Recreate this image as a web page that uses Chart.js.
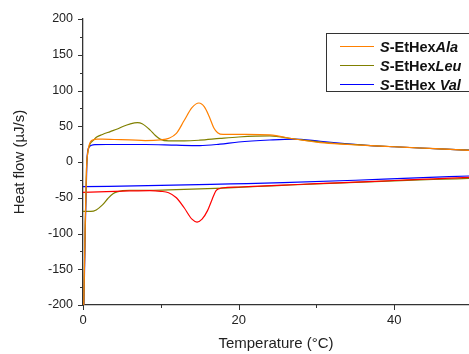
<!DOCTYPE html>
<html>
<head>
<meta charset="utf-8">
<script src="https://cdn.jsdelivr.net/npm/chart.js@4/dist/chart.umd.min.js"></script>
<style>
  html, body { margin: 0; padding: 0; background: #fff; }
  #wrap { position: relative; width: 469px; height: 354px; overflow: hidden; }
  #legend { position: absolute; left: 326px; top: 33px; width: 170px; height: 59px;
            border: 1.5px solid #333; box-sizing: border-box; background: #fff; }
  .row { position: absolute; left: 0; height: 18px; }
  .swatch { position: absolute; left: 13px; width: 34px; top: 8px; height: 0; border-top: 1.5px solid; }
  .lbl { position: absolute; left: 53px; top: 0; white-space: nowrap;
         font: bold 14.5px "Liberation Sans", Arial, sans-serif; color: #111; line-height: 18px; }
</style>
</head>
<body>
<div id="wrap">
  <canvas id="c" width="469" height="354"></canvas>
  <div id="legend"></div>
</div>
<script>
// ---- data ----
const alaHeatT = [0.1,0.28,0.45,0.6,0.8,1.0,1.3,1.8,2.5,4,6,8,10,11,12,13,14,14.9,15.6,16.2,16.8,17.3,18,19,21,24,27,30.5,34,37,40,43.3,46.5,49.6];
const alaHeatQ = [-200,-90,-10,12,24,29,31,32,32,31.5,31,30,31,33,40,58,76,82.5,77,64,48,41,38.5,38.5,38.5,37.8,32.5,27,24.5,22.8,21.3,19.6,18,16.3];

const leuHeatT = [0.1,0.28,0.45,0.6,0.8,1.0,1.3,1.76,2.5,3.5,4.5,5.2,6,7,7.6,8.6,9.3,9.9,11,13,15,17.6,20,24,27,30.5,34,37,40,43.3,46.5,49.6];
const leuHeatQ = [-200,-90,-10,12,22,27,30,35,38.5,42.5,46.5,50,53,55,53.5,45,37,32,29.5,29.5,30.5,33,35,36.4,32.5,28,25,23,21.3,19.6,18,16.5];

const valHeatT = [0.12,0.3,0.5,0.6,0.8,1.1,1.6,3,8,12,15,17.6,20,24,27,30.5,34,37,40,43.3,46.5,49.6];
const valHeatQ = [-200,-90,0,15,21,23.5,24.3,24.5,24.5,23.5,23,25,28,30.8,32,29,25.5,23,21.3,19.6,18,16.5];

const alaCoolT = [0,3,6,8.6,10,11,12,13,14,14.65,15.3,16,16.6,17.1,17.6,18,20,25.7,30,35,40,45,49.6];
const alaCoolQ = [-42.4,-41.5,-40.5,-40,-41,-43,-50,-64,-80,-84,-80,-68,-52,-40,-37,-36,-35,-32.4,-30.3,-28.2,-25.9,-23.6,-21.4];

const leuCoolT = [0,1,1.7,2.5,3.2,3.9,4.5,5.1,6,8.6,12,15,18,20,25,30,35,40,45,49.6];
const leuCoolQ = [-69,-69,-67,-60,-51,-44,-41.5,-40,-39.5,-39.5,-38.5,-37.5,-36.5,-35.5,-33,-30.5,-28.5,-26.5,-24.5,-23];

const valCoolT = [0,10,19,25.7,35,42,49.6];
const valCoolQ = [-34.5,-32.8,-30.6,-28.9,-25.5,-22.5,-19.6];

const seriesNames = ["Ala", "Leu", "Val"];
const xMajorTicks = [0, 20, 40];
const xMinorTicks = [10, 30];
const yMajorTicks = [-200, -150, -100, -50, 0, 50, 100, 150, 200];
const yMinorTicks = [-175, -125, -75, -25, 25, 75, 125, 175];

// ---- styling ----
const COL = { ala: "rgb(255,128,0)", leu: "rgb(128,128,0)", val: "rgb(0,0,255)", alaCool: "rgb(255,0,0)" };
const AXIS = "#333";
const FONT = '"Liberation Sans", Arial, sans-serif';

function pts(xs, ys) { return xs.map((x, i) => ({ x: x, y: ys[i] })); }
function ds(label, xs, ys, color) {
  return { label, data: pts(xs, ys), borderColor: color, backgroundColor: color,
           borderWidth: 1.2, pointRadius: 0, fill: false, cubicInterpolationMode: "monotone" };
}

const datasets = [
  ds("S-EtHexAla", alaHeatT, alaHeatQ, COL.ala),
  ds("S-EtHexLeu", leuHeatT, leuHeatQ, COL.leu),
  ds("S-EtHexVal", valHeatT, valHeatQ, COL.val),
  ds("Ala cool", alaCoolT, alaCoolQ, COL.alaCool),
  ds("Leu cool", leuCoolT, leuCoolQ, COL.leu),
  ds("Val cool", valCoolT, valCoolQ, COL.val)
];

const tickPlugin = {
  id: "tickMarks",
  afterDraw(chart) {
    const c = chart.ctx, xs = chart.scales.x, ys = chart.scales.y, a = chart.chartArea;
    c.save();
    c.strokeStyle = AXIS; c.lineWidth = 1;
    c.beginPath();
    xMajorTicks.forEach(v => { const p = Math.round(xs.getPixelForValue(v)) + 0.5; c.moveTo(p, a.bottom); c.lineTo(p, a.bottom + 5); });
    xMinorTicks.forEach(v => { const p = Math.round(xs.getPixelForValue(v)) + 0.5; c.moveTo(p, a.bottom); c.lineTo(p, a.bottom + 3); });
    yMajorTicks.forEach(v => { const p = Math.round(ys.getPixelForValue(v)) + 0.5; c.moveTo(a.left, p); c.lineTo(a.left - 5, p); });
    yMinorTicks.forEach(v => { const p = Math.round(ys.getPixelForValue(v)) + 0.5; c.moveTo(a.left, p); c.lineTo(a.left - 3, p); });
    c.stroke();
    c.restore();
  }
};

new Chart(document.getElementById("c"), {
  type: "line",
  data: { datasets },
  plugins: [tickPlugin],
  options: {
    responsive: false, animation: false,
    layout: { padding: { top: 19, right: 0, left: 0, bottom: 0 } },
    plugins: { legend: { display: false }, tooltip: { enabled: false } },
    scales: {
      x: {
        type: "linear", min: 0, max: 49.6,
        afterBuildTicks: s => { s.ticks = xMajorTicks.map(v => ({ value: v })); },
        afterFit: s => { s.height = 49; },
        grid: { display: false, drawTicks: true, tickLength: 5 },
        border: { display: true, color: AXIS, width: 1.3 },
        ticks: { color: "#222", font: { family: FONT, size: 13 }, padding: 3, maxRotation: 0 },
        title: { display: true, text: "Temperature (°C)", color: "#222", font: { family: FONT, size: 15 }, padding: { top: 0, bottom: 1 } }
      },
      y: {
        type: "linear", min: -200, max: 200,
        afterBuildTicks: s => { s.ticks = yMajorTicks.map(v => ({ value: v })); },
        afterFit: s => { s.width = 83; },
        grid: { display: false, drawTicks: true, tickLength: 5 },
        border: { display: true, color: AXIS, width: 1.3 },
        ticks: { color: "#222", font: { family: FONT, size: 12.5 }, padding: 5 },
        title: { display: true, text: "Heat flow (µJ/s)", color: "#222", font: { family: FONT, size: 15 }, padding: { top: 11, bottom: 0 } }
      }
    }
  }
});

// ---- legend (HTML overlay, real text) ----
const legend = document.getElementById("legend");
const legendColors = [COL.ala, COL.leu, COL.val];
const rowTops = [4, 22.5, 41.5];
seriesNames.forEach((n, i) => {
  const row = document.createElement("div");
  row.className = "row";
  row.style.top = rowTops[i] + "px";
  const sw = document.createElement("div");
  sw.className = "swatch";
  sw.style.borderTopColor = legendColors[i];
  const lb = document.createElement("div");
  lb.className = "lbl";
  lb.innerHTML = "<i>S</i>-EtHex" + (n === "Val" ? " " : "") + "<i>" + n + "</i>";
  row.appendChild(sw); row.appendChild(lb);
  legend.appendChild(row);
});
</script>
</body>
</html>
